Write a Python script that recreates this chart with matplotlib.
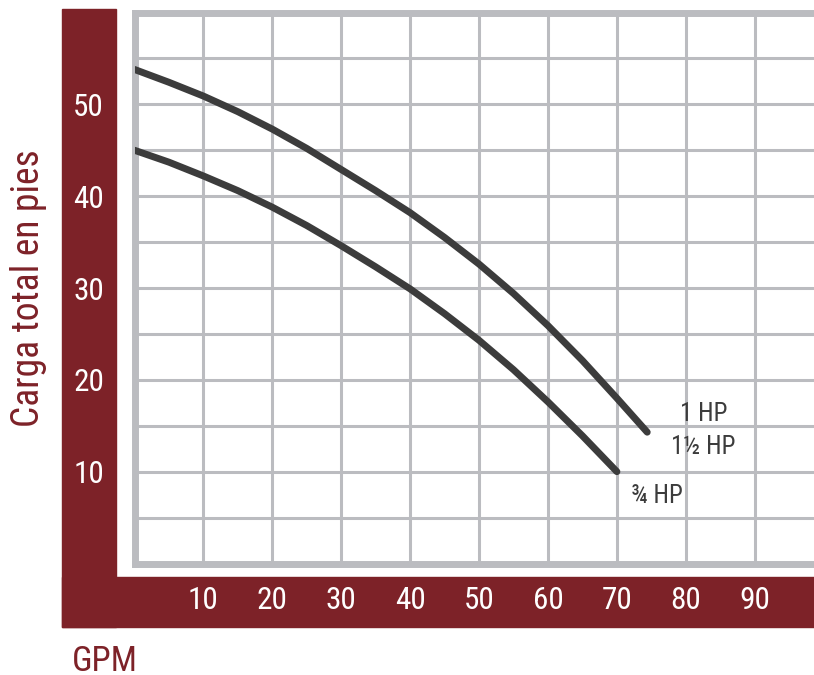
import numpy as np
import matplotlib
matplotlib.use("Agg")
import matplotlib.pyplot as plt
from matplotlib.patches import Rectangle

plt.rcParams['font.family'] = ['Roboto Condensed', 'Liberation Sans Narrow', 'DejaVu Sans']
plt.rcParams['font.stretch'] = 'condensed'

# GPM
gpm = [0, 5, 10, 15, 20, 25, 30, 35, 40, 45, 50, 55, 60, 65, 70]

# 1 HP / 1 1/2 HP curve (ends a little past 70 GPM)
gpm_1hp = gpm + [74.4]
head_1hp = [53.8, 52.4, 50.9, 49.2, 47.3, 45.2, 42.9, 40.6, 38.2, 35.5,
            32.6, 29.4, 25.9, 22.1, 18.0, 14.3]

# 3/4 HP curve
gpm_34hp = gpm
head_34hp = [45.0, 43.7, 42.2, 40.6, 38.8, 36.8, 34.6, 32.3, 29.9, 27.2,
             24.3, 21.1, 17.6, 13.9, 10.0]

x_ticks = [10, 20, 30, 40, 50, 60, 70, 80, 90]
y_ticks = [10, 20, 30, 40, 50]

maroon = '#7d2228'
grid_gray = '#bbbcc0'
curve_col = '#3c3c3c'

W, H = 814, 675
fig = plt.figure(figsize=(W / 100, H / 100), dpi=100)

# maroon L-shaped band behind the axes
fig.patches.append(Rectangle((62 / W, 1 - 627 / H), 54 / W, 618 / H,
                             transform=fig.transFigure, color=maroon, zorder=-1))
fig.patches.append(Rectangle((62 / W, 1 - 627 / H), (W - 62) / W, 50 / H,
                             transform=fig.transFigure, color=maroon, zorder=-1))

ax = fig.add_axes([134.5 / W, 1 - 563.5 / H, (W - 134.5) / W, 551 / H])
ax.set_xlim(0, 98.6)
ax.set_ylim(0, 60)

# grid every 10 GPM / 5 ft, labels only where the chart has them
xg = np.arange(0, 100, 10)
yg = np.arange(0, 61, 5)
ax.set_xticks(xg, labels=[str(v) if v in x_ticks else '' for v in xg])
ax.set_yticks(yg, labels=[str(v) if v in y_ticks else '' for v in yg])
ax.grid(color=grid_gray, linewidth=2.2, zorder=0)
ax.set_axisbelow(True)
ax.tick_params(length=0)
ax.tick_params(axis='y', pad=33, labelsize=22.5, labelcolor='white')
ax.tick_params(axis='x', pad=16, labelsize=22.5, labelcolor='white')
for lab in ax.get_yticklabels():
    lab.set_ha('center')

for side in ['left', 'top', 'bottom']:
    ax.spines[side].set_color(grid_gray)
    ax.spines[side].set_linewidth(5)
ax.spines['right'].set_visible(False)

for xs, ys in [(gpm_1hp, head_1hp), (gpm_34hp, head_34hp)]:
    ax.plot(xs, ys, color=curve_col, lw=5, solid_capstyle='round',
            solid_joinstyle='round', zorder=3)

ax.text(82.6, 16.3, '1 HP', ha='center', va='center', fontsize=18, color=curve_col)
ax.text(82.6, 12.7, '1½ HP', ha='center', va='center', fontsize=18, color=curve_col)
ax.text(75.8, 7.4, '¾ HP', ha='center', va='center', fontsize=18, color=curve_col)

ax.set_ylabel('Carga total en pies', fontsize=27, color=maroon, va='center')
ax.yaxis.set_label_coords(-0.156, 0.5)
ax.set_xlabel('GPM', fontsize=25, color=maroon, ha='left', va='baseline')
ax.xaxis.set_label_coords(-0.092, -0.196)

fig.savefig('out.png', dpi=100)
